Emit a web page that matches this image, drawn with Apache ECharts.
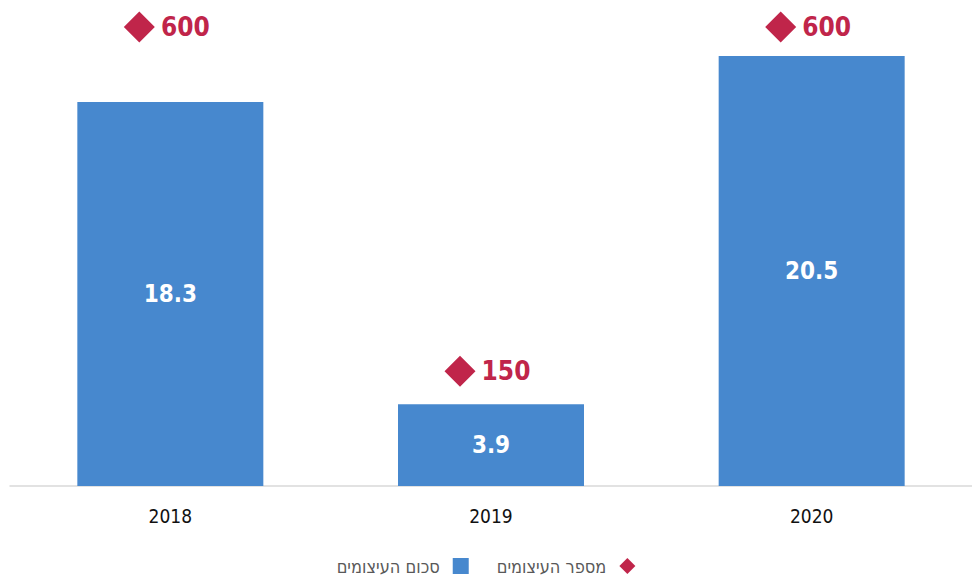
<!DOCTYPE html>
<html>
  <head>
    <meta charset="utf-8" />
    <script src="https://cdn.jsdelivr.net/npm/echarts@6.0.0/dist/echarts.min.js"></script>
    <style>
      body { margin: 0; }
    </style>
  </head>
  <body>
    <div id="main" style="width: 972px; height: 581px"></div>

    <script type="text/javascript">
      var years = ["2018", "2019", "2020"];
      var sumValues = [18.3, 3.9, 20.5];
      var countValues = [600, 150, 600];
      var sumName = "סכום העיצומים";
      var countName = "מספר העיצומים";

      var font = "'DejaVu Sans Condensed', 'Liberation Sans Narrow', sans-serif";

      // svg renderer so the browser lays out the Hebrew legend right-to-left
      var myChart = echarts.init(document.getElementById("main"), null, { renderer: "svg" });

      var option = {
        animation: false,
        textStyle: { fontFamily: font },
        legend: {
          bottom: 1,
          left: "center",
          align: "right",
          itemGap: 28,
          itemWidth: 16,
          itemHeight: 16,
          textStyle: { fontSize: 18, color: "#595959", fontFamily: font, padding: [0, 8, 0, 0] },
          data: [
            { name: sumName, icon: "rect", itemStyle: { color: "#4788ce" } },
            { name: countName, icon: "diamond", itemStyle: { color: "#c0254a", opacity: 1 } }
          ]
        },
        grid: { left: 10, top: 27, width: 975, bottom: 95 },
        xAxis: {
          type: "category",
          data: years,
          axisLine: { lineStyle: { color: "#d9d9d9", width: 1.5 } },
          axisTick: { show: false },
          axisLabel: { fontSize: 19, color: "#111", margin: 20, fontFamily: font }
        },
        yAxis: [
          { type: "value", min: 0, max: 21.88, show: false },
          { type: "value", min: 0, max: 600, show: false }
        ],
        series: [
          {
            name: sumName,
            type: "bar",
            data: sumValues,
            barWidth: 186,
            itemStyle: { color: "#4788ce" },
            label: {
              show: true,
              position: "inside",
              color: "#fff",
              fontSize: 24,
              fontWeight: "bold",
              fontFamily: font
            }
          },
          {
            name: countName,
            type: "scatter",
            yAxisIndex: 1,
            data: countValues,
            symbol: "diamond",
            symbolSize: [31, 31],
            symbolOffset: [-31, 0],
            itemStyle: { color: "#c0254a", opacity: 1 },
            label: {
              show: true,
              position: "inside",
              offset: [46, 0],
              color: "#c0254a",
              fontSize: 26,
              fontWeight: "bold",
              fontFamily: font
            }
          }
        ]
      };

      myChart.setOption(option);
    </script>
  </body>
</html>
